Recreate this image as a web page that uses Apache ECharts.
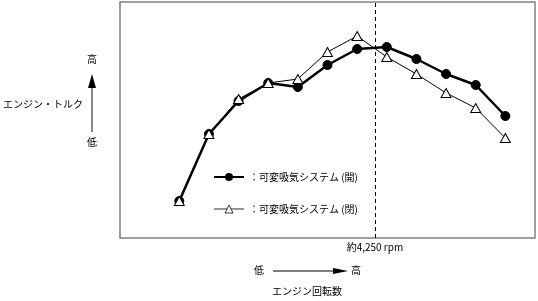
<!DOCTYPE html>
<html>
<head>
<meta charset="utf-8">
<script src="https://cdn.jsdelivr.net/npm/echarts@6/dist/echarts.min.js"></script>
<style>
  html, body { margin: 0; padding: 0; background: #fff; }
  #main { width: 538px; height: 301px; }
</style>
</head>
<body>
<div id="main"></div>
<script>
// engine speed (rpm) of each measured point
var rpmList = [1000, 1500, 2000, 2500, 3000, 3500, 4000, 4500, 5000, 5500, 6000, 6500];
// torque, arbitrary units (no scale printed on the chart)
var torqueOpen = [37, 104, 137, 155, 151, 173, 189, 191, 179, 164, 153, 122];
var torqueClosed = [37, 104, 139, 155, 159, 186, 202, 181, 164, 145, 130, 100];
var seriesNames = ['：可変吸気システム (開)', '：可変吸気システム (閉)'];
var switchRpm = 4300;
var switchLabel = '約4,250 rpm';

var FONT = '"Noto Sans CJK JP", "Noto Sans", sans-serif';

function pairs(ys) {
  return ys.map(function (y, i) { return [rpmList[i], y]; });
}

var chart = echarts.init(document.getElementById('main'), null, { renderer: 'canvas' });

var option = {
  animation: false,
  backgroundColor: '#fff',
  textStyle: { fontFamily: FONT, color: '#000' },
  grid: {
    left: 120, top: 2, width: 415, height: 236,
    show: true, borderColor: '#808080', borderWidth: 1.5, backgroundColor: 'transparent'
  },
  legend: {
    orient: 'vertical',
    left: 208, top: 167,
    itemWidth: 30, itemHeight: 10, itemGap: 22,
    textStyle: { fontFamily: FONT, fontSize: 10, color: '#000' },
    data: [
      { name: seriesNames[0] },
      { name: seriesNames[1], lineStyle: { width: 1, color: '#333' }, itemStyle: { borderWidth: 0.8 } }
    ]
  },
  xAxis: {
    type: 'value', min: 0, max: 7000,
    axisLine: { show: false }, axisTick: { show: false },
    axisLabel: { show: false }, splitLine: { show: false }
  },
  yAxis: {
    type: 'value', min: 0, max: 236,
    axisLine: { show: false }, axisTick: { show: false },
    axisLabel: { show: false }, splitLine: { show: false }
  },
  series: [
    {
      name: seriesNames[0],
      type: 'line',
      data: pairs(torqueOpen),
      symbol: 'circle', symbolSize: 9,
      lineStyle: { color: '#000', width: 2.5 },
      itemStyle: { color: '#000', borderColor: '#000' },
      z: 3,
      markLine: {
        silent: true, symbol: 'none',
        lineStyle: { color: '#000', type: [4, 3], width: 1 },
        label: {
          position: 'start', formatter: switchLabel, distance: 4,
          fontFamily: FONT, fontSize: 10, color: '#000'
        },
        data: [{ xAxis: switchRpm }]
      }
    },
    {
      name: seriesNames[1],
      type: 'line',
      data: pairs(torqueClosed),
      symbol: 'triangle', symbolSize: [10, 9],
      lineStyle: { color: '#000', width: 1 },
      itemStyle: { color: '#fff', borderColor: '#000', borderWidth: 1 },
      z: 4
    }
  ],
  graphic: [
    // torque axis annotation
    { type: 'text', left: 87, top: 54, style: { text: '高', font: '10px ' + FONT, fill: '#000' } },
    { type: 'line', shape: { x1: 92, y1: 132, x2: 92, y2: 86 }, style: { stroke: '#888', lineWidth: 2 } },
    { type: 'polygon', shape: { points: [[92, 74], [88, 88], [96, 88]] }, style: { fill: '#000' } },
    { type: 'text', left: 87, top: 137, style: { text: '低', font: '10px ' + FONT, fill: '#000' } },
    { type: 'text', left: 3, top: 99, style: { text: 'エンジン・トルク', font: '10px ' + FONT, fill: '#000' } },
    // speed axis annotation
    { type: 'text', left: 254, top: 265, style: { text: '低', font: '10px ' + FONT, fill: '#000' } },
    { type: 'line', shape: { x1: 273, y1: 271, x2: 335, y2: 271 }, style: { stroke: '#000', lineWidth: 1 } },
    { type: 'polygon', shape: { points: [[348, 271], [333, 268], [333, 274]] }, style: { fill: '#000' } },
    { type: 'text', left: 351, top: 265, style: { text: '高', font: '10px ' + FONT, fill: '#000' } },
    { type: 'text', left: 272, top: 286, style: { text: 'エンジン回転数', font: '10px ' + FONT, fill: '#000' } }
  ]
};

chart.setOption(option);
</script>
</body>
</html>
